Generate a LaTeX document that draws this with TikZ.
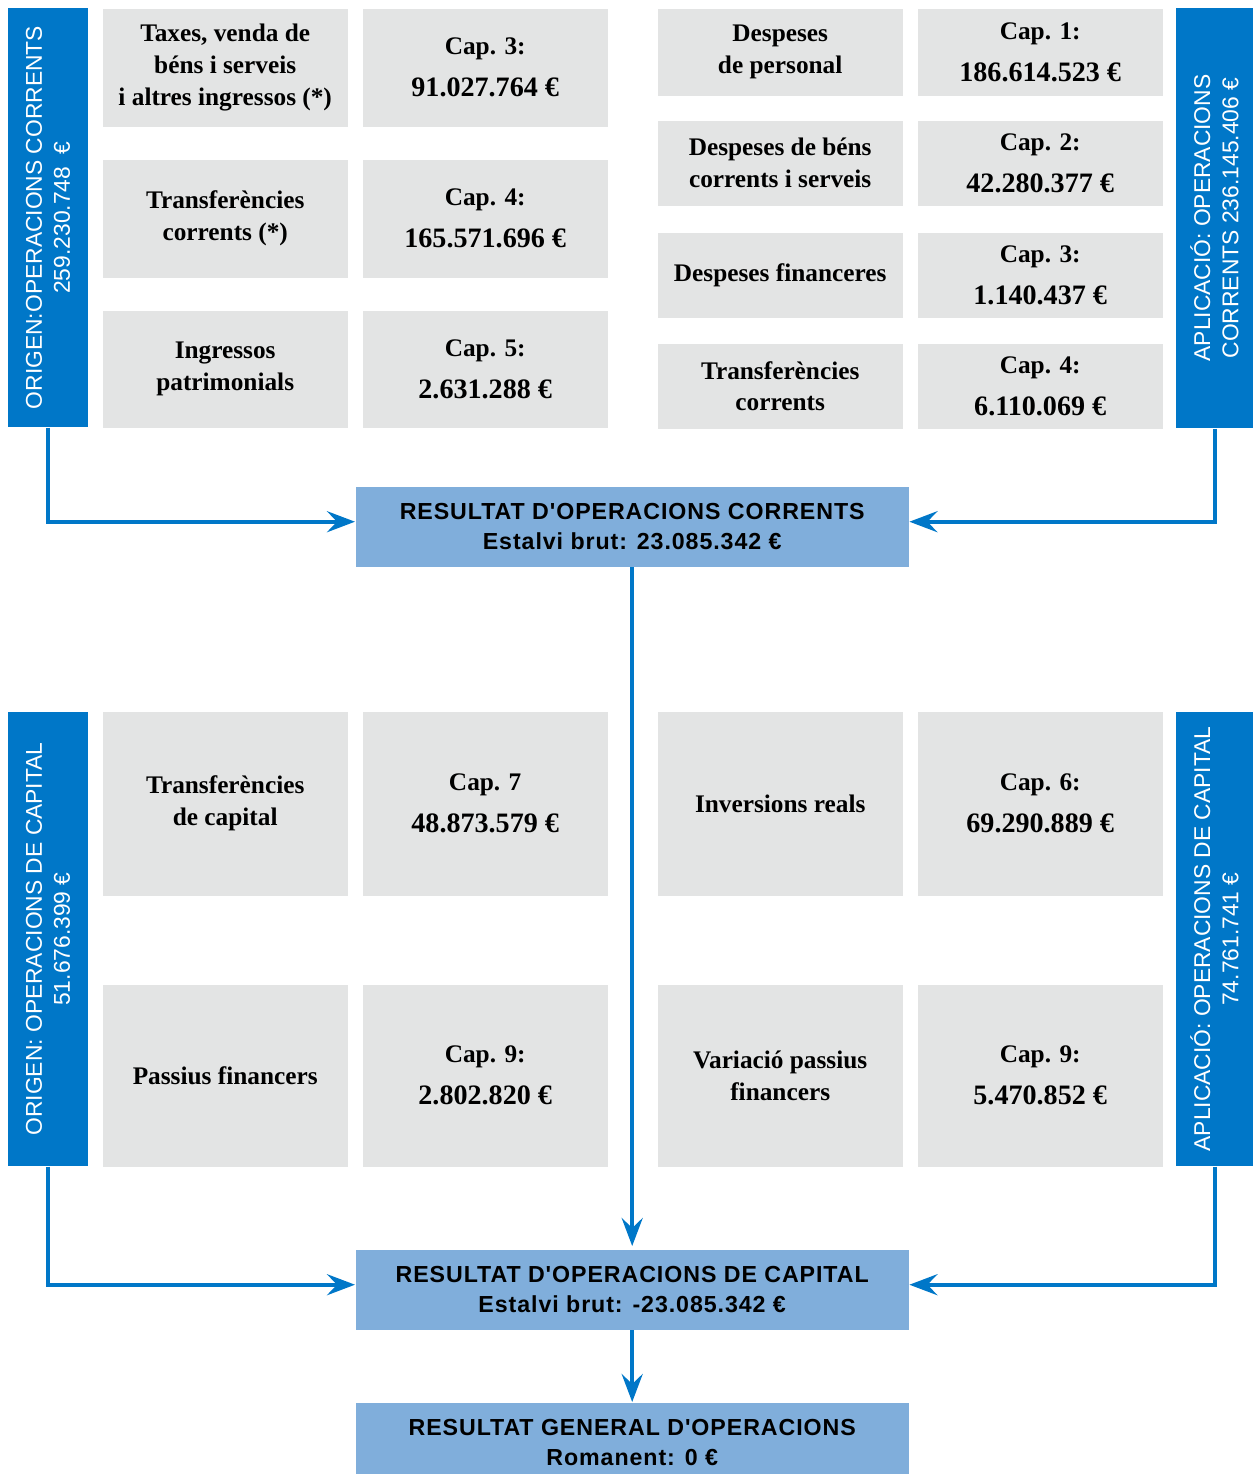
\documentclass[tikz,border=0pt]{standalone}
\usepackage{fontspec}
\setmainfont{Liberation Serif}
\newfontfamily\barrafont{Liberation Sans}
\newfontfamily\resfont[LetterSpace=4]{Liberation Sans}
\usepackage{tikz}
\usetikzlibrary{arrows.meta}

\definecolor{blaufosc}{HTML}{0077C8}
\definecolor{blauclar}{HTML}{80AEDB}
\definecolor{gris}{HTML}{E3E4E4}

\newcommand{\xifra}[1]{{\fontsize{8}{12}\selectfont #1}}

\tikzset{
    concepte/.style={fill=gris, anchor=north west, minimum width=2.45cm, inner sep=0pt, align=center, font=\bfseries\fontsize{7.2}{9.1}\selectfont},
    import/.style={concepte, font=\bfseries\fontsize{7.2}{12}\selectfont},
    barra/.style={fill=blaufosc, text=white, rotate=90, inner sep=0pt, align=center, font=\barrafont\fontsize{6.5}{8}\selectfont},
    resultat/.style={fill=blauclar, anchor=north west, minimum width=5.53cm, minimum height=0.8cm, inner sep=0pt, align=center, font=\resfont\bfseries\fontsize{6.6}{8.5}\selectfont},
    fletxa/.style={draw=blaufosc, line width=0.04cm, -{Stealth[length=0.28cm, width=0.21cm, inset=0.1cm]}}
}

\begin{document}
\begin{tikzpicture}
        \useasboundingbox (0,0) rectangle (12.53,-14.74);

        \node[barra, minimum width=4.19cm, minimum height=0.8cm] (origcorr) at (0.48,-2.175) {ORIGEN:OPERACIONS CORRENTS\\259.230.748~~€};
        \node[barra, minimum width=4.20cm, minimum height=0.77cm] (aplcorr) at (12.145,-2.18) {APLICACIÓ: OPERACIONS\\CORRENTS 236.145.406 €};
        \node[barra, minimum width=4.54cm, minimum height=0.8cm] (origcap) at (0.48,-9.39) {ORIGEN: OPERACIONS DE CAPITAL\\51.676.399 €};
        \node[barra, minimum width=4.54cm, minimum height=0.77cm] (aplcap) at (12.145,-9.39) {APLICACIÓ: OPERACIONS DE CAPITAL\\74.761.741 €};

        \node[concepte, minimum height=1.18cm] (taxes) at (1.02,-0.08) {Taxes, venda de\\béns i serveis\\i altres ingressos (*)};
        \node[import, minimum height=1.18cm] (cap3i) at (3.62,-0.08) {Cap. 3:\\\xifra{91.027.764 €}};
        \node[concepte, minimum height=1.18cm] (transfi) at (1.02,-1.59) {Transferències\\corrents (*)};
        \node[import, minimum height=1.18cm] (cap4i) at (3.62,-1.59) {Cap. 4:\\\xifra{165.571.696 €}};
        \node[concepte, minimum height=1.17cm] (patrim) at (1.02,-3.10) {Ingressos\\patrimonials};
        \node[import, minimum height=1.17cm] (cap5i) at (3.62,-3.10) {Cap. 5:\\\xifra{2.631.288 €}};

        \node[concepte, minimum height=0.87cm] (personal) at (6.57,-0.08) {Despeses\\de personal};
        \node[import, minimum height=0.87cm] (cap1d) at (9.17,-0.08) {Cap. 1:\\\xifra{186.614.523 €}};
        \node[concepte, minimum height=0.85cm] (bens) at (6.57,-1.20) {Despeses de béns\\corrents i serveis};
        \node[import, minimum height=0.85cm] (cap2d) at (9.17,-1.20) {Cap. 2:\\\xifra{42.280.377 €}};
        \node[concepte, minimum height=0.85cm] (financ) at (6.57,-2.32) {Despeses financeres};
        \node[import, minimum height=0.85cm] (cap3d) at (9.17,-2.32) {Cap. 3:\\\xifra{1.140.437 €}};
        \node[concepte, minimum height=0.85cm] (transfd) at (6.57,-3.43) {Transferències\\corrents};
        \node[import, minimum height=0.85cm] (cap4d) at (9.17,-3.43) {Cap. 4:\\\xifra{6.110.069 €}};

        \node[concepte, minimum height=1.84cm] (transfcap) at (1.02,-7.11) {Transferències\\de capital};
        \node[import, minimum height=1.84cm] (cap7i) at (3.62,-7.11) {Cap. 7\\\xifra{48.873.579 €}};
        \node[concepte, minimum height=1.82cm] (passius) at (1.02,-9.84) {Passius financers};
        \node[import, minimum height=1.82cm] (cap9i) at (3.62,-9.84) {Cap. 9:\\\xifra{2.802.820 €}};
        \node[concepte, minimum height=1.84cm] (inversions) at (6.57,-7.11) {Inversions reals};
        \node[import, minimum height=1.84cm] (cap6d) at (9.17,-7.11) {Cap. 6:\\\xifra{69.290.889 €}};
        \node[concepte, minimum height=1.82cm] (variacio) at (6.57,-9.84) {Variació passius\\financers};
        \node[import, minimum height=1.82cm] (cap9d) at (9.17,-9.84) {Cap. 9:\\\xifra{5.470.852 €}};

        \node[resultat] (rescorr) at (3.55,-4.86) {RESULTAT D'OPERACIONS CORRENTS\\Estalvi brut: 23.085.342 €};
        \node[resultat] (rescap) at (3.55,-12.49) {RESULTAT D'OPERACIONS DE CAPITAL\\Estalvi brut: -23.085.342 €};
        \node[resultat] (resgen) at (3.55,-14.02) {RESULTAT GENERAL D'OPERACIONS\\Romanent: 0 €};

        \draw[fletxa] (origcorr.west) |- ([yshift=0.05cm]rescorr.west);
        \draw[fletxa] (aplcorr.west) |- ([yshift=0.05cm]rescorr.east);
        \draw[fletxa, shorten >=0.03cm] (rescorr.south) -- (rescap.north);
        \draw[fletxa] (origcap.west) |- ([yshift=0.05cm]rescap.west);
        \draw[fletxa] (aplcap.west) |- ([yshift=0.05cm]rescap.east);
        \draw[fletxa] (rescap.south) -- (resgen.north);
    \end{tikzpicture}
\end{document}
